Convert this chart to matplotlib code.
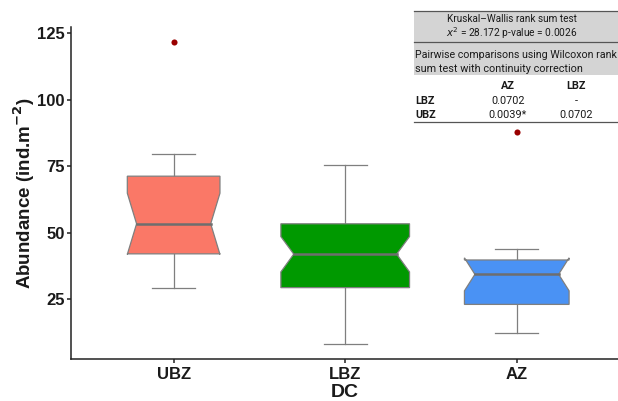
"""Notched boxplots of abundance per depth class (DC), with the
Kruskal-Wallis / pairwise Wilcoxon summary table in the top right corner."""

import matplotlib

matplotlib.use("Agg")

import matplotlib.pyplot as plt
from matplotlib.patches import Polygon, Rectangle

# Box statistics per depth class (ind.m-2).
GROUPS = ["UBZ", "LBZ", "AZ"]
WHISK_LO = [29.4, 8.2, 12.4]
Q1 = [42.1, 29.4, 23.1]
MEDIAN = [53.4, 42.0, 34.4]
Q3 = [71.3, 53.4, 39.8]
WHISK_HI = [79.6, 75.4, 44.0]
NOTCH_LO = [41.9, 35.3, 28.2]
NOTCH_HI = [64.9, 48.6, 40.6]
OUTLIERS = [[121.6], [], [88.0]]

# Test summary.
KW_LINES = ["Kruskal\u2013Wallis rank sum test", r"$x^2$ = 28.172 p-value = 0.0026"]
PW_LINES = ["Pairwise comparisons using Wilcoxon rank", "sum test with continuity correction"]
PW_COLS = ["AZ", "LBZ"]
PW_ROWS = ["LBZ", "UBZ"]
PW_PVALUES = [["0.0702", "-"], ["0.0039*", "0.0702"]]

FILLS = ["#FA7867", "#009900", "#4A92F4"]
BOX_WIDTHS = [0.54, 0.75, 0.61]
NOTCH_FRAC = 0.8
CAP_WIDTH = 0.25
EDGE = "#7F7F7F"
INK = "#1A1A1A"
W, H = 618, 401


def fit_width(fig, txt, target_px):
    fig.canvas.draw()
    r = fig.canvas.get_renderer()
    w = txt.get_window_extent(renderer=r).width
    txt.set_fontsize(txt.get_fontsize() * target_px / w)


def draw_box(ax, x, i):
    half = BOX_WIDTHS[i] / 2
    nh = half * NOTCH_FRAC
    lo, hi = x - half, x + half
    pts = [
        (lo, Q3[i]), (lo, NOTCH_HI[i]), (x - nh, MEDIAN[i]), (lo, NOTCH_LO[i]), (lo, Q1[i]),
        (hi, Q1[i]), (hi, NOTCH_LO[i]), (x + nh, MEDIAN[i]), (hi, NOTCH_HI[i]), (hi, Q3[i]),
    ]
    ax.add_patch(Polygon(pts, closed=True, facecolor=FILLS[i], edgecolor=EDGE, linewidth=0.9, zorder=3))
    ax.plot([x - nh, x + nh], [MEDIAN[i]] * 2, color="#6E6E6E", linewidth=1.8, zorder=4)
    # whiskers with caps
    ax.plot([x, x], [Q3[i], WHISK_HI[i]], color=EDGE, linewidth=0.9, zorder=2)
    ax.plot([x, x], [Q1[i], WHISK_LO[i]], color=EDGE, linewidth=0.9, zorder=2)
    for yv in (WHISK_LO[i], WHISK_HI[i]):
        ax.plot([x - CAP_WIDTH / 2, x + CAP_WIDTH / 2], [yv, yv], color=EDGE, linewidth=0.9, zorder=2)
    for ov in OUTLIERS[i]:
        ax.plot(x, ov, "o", color="#990000", markersize=4.4, markeredgewidth=0, zorder=5)


def main():
    plt.rcParams["font.family"] = ["Liberation Sans", "DejaVu Sans"]
    fig = plt.figure(figsize=(W / 100, H / 100), dpi=100)
    ax = fig.add_axes([70.7 / W, (H - 359.2) / H, 549 / W, 332 / H])
    ax.set_xlim(0.4, 3.6)
    ax.set_ylim(2.5, 127.3)

    for i in range(len(GROUPS)):
        draw_box(ax, i + 1, i)

    for side in ("top", "right"):
        ax.spines[side].set_visible(False)
    for side in ("left", "bottom"):
        ax.spines[side].set_color("#222222")
        ax.spines[side].set_linewidth(1.1)
    ax.set_xticks(range(1, len(GROUPS) + 1))
    ax.set_xticklabels(GROUPS)
    ax.set_yticks([25, 50, 75, 100, 125])
    ax.tick_params(axis="both", length=3, width=1.1, color="#222222", pad=1.5, labelsize=12, labelcolor=INK)
    ax.tick_params(axis="x", pad=2.5)
    for lab in ax.get_xticklabels() + ax.get_yticklabels():
        lab.set_fontweight("bold")
    ax.set_xlabel("DC", fontsize=14, fontweight="bold", color=INK)
    ax.set_ylabel(r"Abundance (ind.m$^{\mathbf{-2}}$)", fontsize=13.5, fontweight="bold", color=INK)
    ax.xaxis.set_label_coords(0.5, -0.074)
    ax.yaxis.set_label_coords(-0.062, 0.5)

    # Summary table, drawn in pixel coordinates.
    tab = fig.add_axes([0, 0, 1, 1])
    tab.set_xlim(0, W)
    tab.set_ylim(H, 0)
    tab.axis("off")
    x0, x1 = 414, W
    tab.add_patch(Rectangle((x0, 11), x1 - x0, 64.3, facecolor="#D4D4D4", edgecolor="none"))
    for yl in (11, 42.4, 122):
        tab.plot([x0, x1], [yl, yl], color="#555555", linewidth=0.9)

    tfont = ["Roboto", "DejaVu Sans"]
    t1 = tab.text(512, 18.6, KW_LINES[0], ha="center", va="center", fontsize=8, family=tfont, color=INK)
    t2 = tab.text(512, 32.9, KW_LINES[1], ha="center", va="center", fontsize=8, family=tfont, color=INK)
    t3 = tab.text(415, 55.3, PW_LINES[0], ha="left", va="center", fontsize=8, family=tfont, color=INK)
    t4 = tab.text(415, 69.2, PW_LINES[1], ha="left", va="center", fontsize=8, family=tfont, color=INK)
    fit_width(fig, t1, 130)
    fit_width(fig, t2, 132)
    fit_width(fig, t3, 203)
    fit_width(fig, t4, 168)
    cell = t4.get_fontsize()

    col_x = [508, 576]
    for cx, name in zip(col_x, PW_COLS):
        tab.text(cx, 86.4, name, ha="center", va="center", fontsize=cell, fontweight="bold", family=tfont, color=INK)
    for r, (row, vals) in enumerate(zip(PW_ROWS, PW_PVALUES)):
        ry = 100.7 + r * 14.2
        tab.text(415, ry, row, ha="left", va="center", fontsize=cell, fontweight="bold", family=tfont, color=INK)
        for cx, v in zip(col_x, vals):
            tab.text(cx, ry, v, ha="center", va="center", fontsize=cell, family=tfont, color=INK)

    fig.savefig("out.png", dpi=100, facecolor="white")
    plt.close(fig)


if __name__ == "__main__":
    main()
